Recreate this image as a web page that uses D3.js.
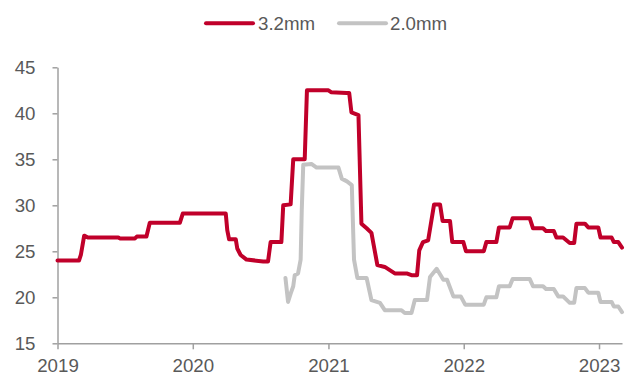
<!DOCTYPE html>
<html>
<head>
<meta charset="utf-8">
<script src="https://cdn.jsdelivr.net/npm/d3@7"></script>
<style>
  html, body { margin: 0; padding: 0; background: #fff; }
  svg { display: block; font-family: "Liberation Sans", Arial, sans-serif; }
</style>
</head>
<body>
<svg id="chart" width="633" height="376"></svg>
<script>
// Price series (dates and values), step-like weekly quotes
const seriesNames = ["3.2mm", "2.0mm"];
const seriesColors = ["#C0002A", "#C3C3C3"];

const dates32 = [
  "2019-01-01","2019-02-28","2019-03-05","2019-03-14","2019-03-24","2019-06-14","2019-06-18","2019-07-29",
  "2019-08-03","2019-08-29","2019-09-07","2019-11-27","2019-12-05",
  "2020-03-30","2020-04-03","2020-04-08","2020-04-26","2020-04-30","2020-05-09","2020-05-25","2020-07-09",
  "2020-07-22","2020-07-29","2020-08-27","2020-09-01","2020-09-21","2020-09-28","2020-10-29","2020-11-04",
  "2020-12-08",
  "2021-01-01","2021-01-08","2021-02-19","2021-02-26","2021-03-04","2021-03-23","2021-03-31","2021-04-14",
  "2021-04-27","2021-05-13","2021-06-02","2021-06-29","2021-07-31","2021-08-13","2021-08-28","2021-09-03",
  "2021-09-13","2021-09-27","2021-10-13","2021-10-29","2021-11-05","2021-11-25","2021-12-01","2021-12-31",
  "2022-01-07","2022-02-24","2022-03-03","2022-03-30","2022-04-06","2022-05-05","2022-05-13","2022-06-28",
  "2022-07-07","2022-08-03","2022-08-11","2022-09-01","2022-09-08","2022-09-26","2022-10-14","2022-10-26",
  "2022-11-01","2022-11-24","2022-12-03","2022-12-30",
  "2023-01-05","2023-02-04","2023-02-10","2023-02-22","2023-03-04"
];
const values32 = [
  24.0,24.0,24.6,26.7,26.5,26.5,26.4,26.4,
  26.6,26.6,28.1,28.1,29.1,
  29.1,27.3,26.3,26.3,25.3,24.6,24.1,23.9,
  23.9,26.0,26.0,30.0,30.1,35.0,35.0,42.5,
  42.5,
  42.5,42.3,42.2,42.2,40.1,39.8,28.0,27.5,
  27.0,23.5,23.3,22.6,22.6,22.4,22.4,25.1,
  26.0,26.2,30.1,30.1,28.3,28.3,26.0,26.0,
  25.0,25.0,26.0,26.0,27.6,27.6,28.6,28.6,
  27.5,27.5,27.2,27.2,26.5,26.5,25.9,25.9,
  28.0,28.0,27.6,27.6,
  26.5,26.5,26.0,26.0,25.4
];

const dates20 = [
  "2020-09-07","2020-09-14","2020-09-21","2020-09-28","2020-10-02","2020-10-11","2020-10-18","2020-10-21",
  "2020-10-25","2020-11-16","2020-11-30",
  "2021-01-28","2021-02-06","2021-02-20","2021-03-05","2021-03-11","2021-03-20","2021-04-14","2021-04-27",
  "2021-05-20","2021-06-02","2021-07-17","2021-07-26","2021-08-13","2021-08-22","2021-09-24","2021-10-02",
  "2021-10-20","2021-11-07","2021-11-17","2021-12-04","2021-12-24",
  "2022-01-05","2022-02-24","2022-03-03","2022-03-30","2022-04-06","2022-05-05","2022-05-13","2022-06-28",
  "2022-07-07","2022-08-03","2022-08-11","2022-09-01","2022-09-13","2022-09-26","2022-10-14","2022-10-26",
  "2022-11-01","2022-11-24","2022-12-03","2022-12-30",
  "2023-01-05","2023-02-04","2023-02-10","2023-02-22","2023-03-04"
];
const values20 = [
  22.1,19.5,20.4,21.2,22.4,22.6,24.1,29.5,
  34.4,34.5,34.1,
  34.1,32.9,32.6,32.2,24.1,22.1,22.1,19.7,
  19.4,18.6,18.6,18.3,18.3,19.7,19.7,22.2,
  23.1,21.9,21.9,20.1,20.1,
  19.2,19.2,20.0,20.0,21.2,21.2,22.0,22.0,
  21.2,21.2,20.9,20.9,20.1,20.1,19.4,19.4,
  21.0,21.0,20.5,20.5,
  19.5,19.5,19.0,19.0,18.4
];

const yTicks = [15, 20, 25, 30, 35, 40, 45];
const xTickYears = ["2019", "2020", "2021", "2022", "2023"];
const xDomain = ["2019-01-01", "2023-03-04"];

const parse = d3.timeParse("%Y-%m-%d");
const series = [
  dates32.map((d, i) => ({ date: parse(d), value: values32[i] })),
  dates20.map((d, i) => ({ date: parse(d), value: values20[i] }))
];

const svg = d3.select("#chart");
const fontSize = "18.7px";
const textColor = "#595959";
const axisColor = "#A0A0A0";

const x = d3.scaleTime().domain(xDomain.map(parse)).range([57.5, 622]);
const y = d3.scaleLinear().domain([15, 45]).range([343.3, 67.3]);

// Y axis
const yAxis = svg.append("g")
  .attr("transform", "translate(57.5,0)")
  .call(d3.axisLeft(y).tickValues(yTicks).tickSize(5).tickPadding(17).tickSizeOuter(0));
// X axis
const xAxis = svg.append("g")
  .attr("transform", "translate(0,343.3)")
  .call(d3.axisBottom(x)
    .tickValues(xTickYears.map(d => d3.timeParse("%Y")(d)))
    .tickFormat(d3.timeFormat("%Y"))
    .tickSize(6).tickPadding(9).tickSizeOuter(0));

[yAxis, xAxis].forEach(g => {
  g.selectAll("path.domain").attr("stroke", axisColor).attr("stroke-width", 1.5);
  g.selectAll(".tick line").attr("stroke", axisColor).attr("stroke-width", 1.5);
  g.selectAll(".tick text")
    .attr("fill", textColor)
    .style("font-size", fontSize)
    .style("font-family", "'Liberation Sans', Arial, sans-serif");
});

// Lines
const line = d3.line()
  .x(d => x(d.date))
  .y(d => y(d.value))
  .curve(d3.curveLinear);

// Draw grey first so red sits on top
[1, 0].forEach(i => {
  svg.append("path")
    .datum(series[i])
    .attr("fill", "none")
    .attr("stroke", seriesColors[i])
    .attr("stroke-width", 4)
    .attr("stroke-linejoin", "round")
    .attr("stroke-linecap", "round")
    .attr("d", line);
});

// Legend
const legendItems = [
  { name: seriesNames[0], color: seriesColors[0], x0: 206, x1: 253, tx: 258 },
  { name: seriesNames[1], color: seriesColors[1], x0: 339, x1: 386, tx: 390 }
];
const legend = svg.append("g");
legendItems.forEach(it => {
  legend.append("line")
    .attr("x1", it.x0).attr("x2", it.x1)
    .attr("y1", 23.3).attr("y2", 23.3)
    .attr("stroke", it.color)
    .attr("stroke-width", 4)
    .attr("stroke-linecap", "round");
  legend.append("text")
    .attr("x", it.tx).attr("y", 23.5)
    .attr("dy", "0.35em")
    .attr("fill", textColor)
    .style("font-size", fontSize)
    .text(it.name);
});
</script>
</body>
</html>
